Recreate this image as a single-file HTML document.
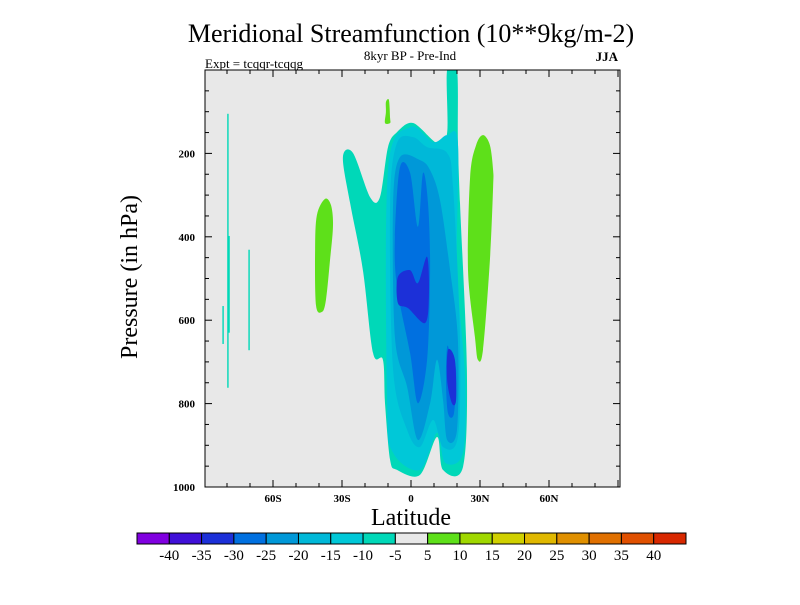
<!DOCTYPE html>
<html><head><meta charset="utf-8"><style>
body{margin:0;background:#fff}
svg text{font-family:"Liberation Serif",serif}
</style></head><body>
<svg id="chart" width="800" height="600" xmlns="http://www.w3.org/2000/svg">
<text x="411" y="42" font-size="26" text-anchor="middle">Meridional Streamfunction (10**9kg/m-2)</text>
<text x="410" y="60" font-size="13" text-anchor="middle">8kyr BP - Pre-Ind</text>
<text x="205" y="68" font-size="13">Expt = tcqqr-tcqqg</text>
<text x="618" y="61" font-size="13" font-weight="bold" text-anchor="end">JJA</text>
<rect x="205" y="70" width="415" height="417" fill="#e8e8e8"/>
<g id="contours"></g>
<g id="axes"></g>
<rect x="205" y="70" width="415" height="417" fill="none" stroke="#000" stroke-width="1"/>
<text x="411" y="525" font-size="24" text-anchor="middle">Latitude</text>
<text transform="translate(137,277) rotate(-90)" font-size="24" text-anchor="middle">Pressure (in hPa)</text>
<g id="colorbar"></g>
</svg>
<script>
const latTicks=[-60,-30,0,30,60];
const latTickLabels=["60S","30S","0","30N","60N"];
const presTicks=[200,400,600,800,1000];
const cbLabels=["-40","-35","-30","-25","-20","-15","-10","-5","5","10","15","20","25","30","35","40"];
const cbColors=["#8000e0","#4010d8","#1c30d8","#0070e0","#0098d8","#00b8d8","#00c8d8","#00d8b8","#e8e8e8","#5ee01a","#a0d800","#d0d000","#e0b800","#e09000","#e07000","#e05000","#d82800"];
// contour regions: [lat, pressure]
const teal10=[[-29.6,209],[-26.5,319],[-20.9,480],[-16.5,679],[-12.2,695],[-11.3,799],[-9.1,935],[-6.1,959],[3.9,971],[11.3,880],[13.9,959],[22.6,952],[24.3,719],[21.3,319],[20.4,168],[20,0],[15.7,0],[15.7,151],[11.3,175],[0.9,127],[-6.1,149],[-10,185],[-13.5,305],[-17.8,305],[-25.2,199]];
const cyan15=[[-0.4,137],[-10,240],[-10.4,799],[-7.8,918],[3.9,959],[11.3,870],[14.8,942],[22.6,918],[23.5,736],[20,480],[20.4,175],[15.7,156],[9.6,173]];
const cyan20=[[-6.1,175],[-9.1,319],[-7.8,719],[-1.7,863],[3.9,904],[9.6,839],[13.9,904],[20.4,880],[21.3,640],[18.3,281],[15.7,199],[7,185],[0.9,161]];
const blue25=[[-4.8,209],[-7.8,319],[-7,640],[-1.7,760],[3,887],[8.3,799],[11.3,695],[13.9,791],[15.7,887],[20,863],[20.4,647],[17,480],[12.6,312],[8.3,240],[3.9,216]];
const blue30a=[[-4.8,233],[-7,400],[-6.1,520],[-0.4,679],[3,799],[7,695],[8.3,480],[7.4,319],[5.2,247],[3,376],[-0.4,247]];
const blue30b=[[17,679],[15.7,664],[15.2,743],[16.1,823],[18.7,823],[19.6,719]];
const blue35a=[[-0.4,480],[-5.7,496],[-5.7,559],[-1.3,571],[6.1,607],[7.8,544],[7,448],[3,511]];
const blue35b=[[16.1,671],[15.7,743],[17.8,799],[19.6,791],[19.1,695]];
const greenRight=[[31.3,156],[34.3,180],[35.7,240],[35.7,281],[34.3,456],[31.3,671],[29.1,695],[27.8,640],[24.8,480],[25.7,257],[28.3,180]];
const greenTop=[[-10.9,77],[-9.6,72],[-9.1,115],[-9.1,127],[-11.3,127],[-10.9,101]];
const greenLeft=[[-37.4,309],[-34.8,324],[-33.9,372],[-35.2,456],[-37,552],[-38.7,580],[-41.3,564],[-41.7,432],[-40.9,348]];
const thinLines=[[-79.6,105,762],[-79.1,398,630],[-81.7,566,657],[-70.4,431,672]];

const NS="http://www.w3.org/2000/svg";
const X=l=>411+l*2.3;
const Y=p=>70+p*0.417;
function mk(t,a,parent){const e=document.createElementNS(NS,t);for(const k in a)e.setAttribute(k,a[k]);parent.appendChild(e);return e;}
function smoothPath(pts){
 const P=pts.map(p=>[X(p[0]),Math.min(487,Math.max(70,Y(p[1])))]);
 const n=P.length;let d='M'+P[0][0]+','+P[0][1];
 for(let i=0;i<n;i++){
  const p0=P[(i-1+n)%n],p1=P[i],p2=P[(i+1)%n],p3=P[(i+2)%n];
  const t=0.16;
  const c1=[p1[0]+(p2[0]-p0[0])*t,p1[1]+(p2[1]-p0[1])*t];
  const c2=[p2[0]-(p3[0]-p1[0])*t,p2[1]-(p3[1]-p1[1])*t];
  d+=' C'+c1[0].toFixed(1)+','+Math.max(70,c1[1]).toFixed(1)+' '+c2[0].toFixed(1)+','+Math.max(70,c2[1]).toFixed(1)+' '+p2[0].toFixed(1)+','+p2[1].toFixed(1);
 }
 return d+'Z';
}
const cg=document.getElementById('contours');
const regions=[[teal10,"#00d8b8","contour-minus10"],[cyan15,"#00c8d8","contour-minus15"],[cyan20,"#00b8d8","contour-minus20"],[blue25,"#0098d8","contour-minus25"],[blue30a,"#0070e0","contour-minus30-a"],[blue30b,"#0070e0","contour-minus30-b"],[blue35a,"#1c30d8","contour-minus35-a"],[blue35b,"#1c30d8","contour-minus35-b"],[greenRight,"#5ee01a","contour-plus5-north"],[greenTop,"#5ee01a","contour-plus5-top"],[greenLeft,"#5ee01a","contour-plus5-south"]];
regions.forEach(r=>{
 const e=mk('path',{d:smoothPath(r[0]),fill:r[1]},cg);
 
 
});
thinLines.forEach(l=>{
 const e=mk('rect',{x:X(l[0])-0.7,y:Y(l[1]),width:1.4,height:Y(l[2])-Y(l[1]),fill:"#00d8b8"},cg);
 
 
});
const ax=document.getElementById('axes');
for(let l=-80;l<=90;l+=10){
 const major=l%30===0;const len=major?7:4;
 mk('line',{x1:X(l),x2:X(l),y1:487,y2:487-len,stroke:"#000"},ax);
 mk('line',{x1:X(l),x2:X(l),y1:70,y2:70+len,stroke:"#000"},ax);
}
for(let p=50;p<1000;p+=50){
 const major=p%200===0;const len=major?7:4;
 mk('line',{x1:205,x2:205+len,y1:Y(p),y2:Y(p),stroke:"#000"},ax);
 mk('line',{x1:620,x2:620-len,y1:Y(p),y2:Y(p),stroke:"#000"},ax);
}
latTicks.forEach((l,i)=>{
 const t=mk('text',{x:X(l),y:502,'font-size':11,'font-weight':'bold','text-anchor':'middle'},ax);t.textContent=latTickLabels[i];
 
 
});
presTicks.forEach(p=>{
 const t=mk('text',{x:195,y:Y(p)+4,'font-size':11,'font-weight':'bold','text-anchor':'end'},ax);t.textContent=p;
 
 
});
const cb=document.getElementById('colorbar');
const bw=549/cbColors.length;
cbColors.forEach((c,i)=>{
 const r=mk('rect',{x:137+i*bw,y:533,width:bw,height:11,fill:c,stroke:"#000","stroke-width":1},cb);
 
 
});
cbLabels.forEach((s,i)=>{
 const t=mk('text',{x:137+(i+1)*bw,y:560,'font-size':15,'text-anchor':'middle'},cb);t.textContent=s;
 
 
});
</script>
</body></html>
